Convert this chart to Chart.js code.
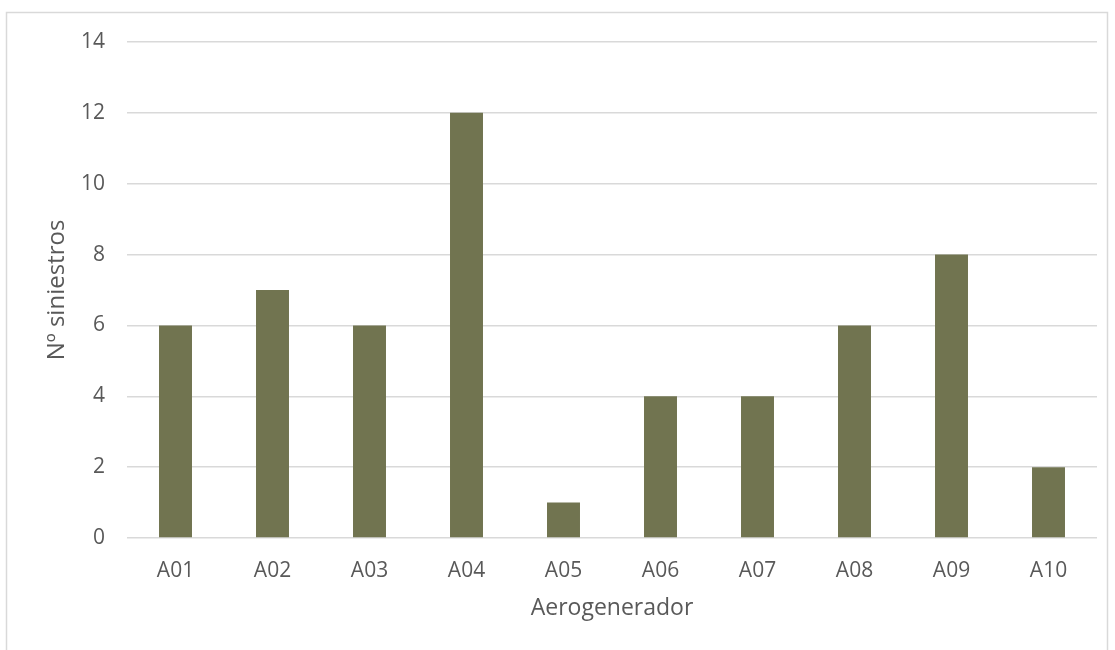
<!DOCTYPE html>
<html>
<head>
<meta charset="utf-8">
<script src="https://cdn.jsdelivr.net/npm/chart.js@4.4.0/dist/chart.umd.min.js"></script>
<style>
  html, body { margin: 0; padding: 0; background: #fff; }
  #wrap { position: relative; width: 1115px; height: 650px; }
</style>
</head>
<body>
<div id="wrap"><canvas id="chart" width="1115" height="650"></canvas></div>
<script>
  var categories = ["A01", "A02", "A03", "A04", "A05", "A06", "A07", "A08", "A09", "A10"];
  var siniestros = [6, 7, 6, 12, 1, 4, 4, 6, 8, 2];
  var yTicks = [0, 2, 4, 6, 8, 10, 12, 14];

  var TEXT = "#595959";
  var GRID = "#d9d9d9";
  var FONT = "'Open Sans', sans-serif";

  // outer frame like the spreadsheet chart border
  var framePlugin = {
    id: "frame",
    beforeDraw: function (chart) {
      var c = chart.ctx;
      c.save();
      c.fillStyle = "#fff";
      c.fillRect(0, 0, chart.width, chart.height);
      c.strokeStyle = GRID;
      c.lineWidth = 1.5;
      c.strokeRect(6.5, 12.5, 1101, 700);
      c.restore();
    }
  };

  new Chart(document.getElementById("chart"), {
    type: "bar",
    data: {
      labels: categories,
      datasets: [{
        label: "Nº siniestros",
        data: siniestros,
        backgroundColor: "#717450",
        borderWidth: 0,
        categoryPercentage: 1,
        barPercentage: 0.34
      }]
    },
    options: {
      responsive: false,
      animation: false,
      layout: { padding: { left: 0, right: 18, top: 42, bottom: 0 } },
      plugins: {
        legend: { display: false },
        tooltip: { enabled: false }
      },
      scales: {
        x: {
          grid: { display: false, drawTicks: false },
          border: { display: false },
          ticks: { color: TEXT, font: { family: FONT, size: 21 }, padding: 20 },
          title: {
            display: true,
            text: "Aerogenerador",
            color: TEXT,
            font: { family: FONT, size: 23 },
            padding: { top: 2, bottom: 28 }
          },
          afterFit: function (s) { s.height = 650 - 538; }
        },
        y: {
          min: 0,
          max: 14,
          afterBuildTicks: function (s) {
            s.ticks = yTicks.map(function (v) { return { value: v }; });
          },
          grid: { color: GRID, lineWidth: 1.5, drawTicks: false },
          border: { display: false },
          ticks: { color: TEXT, font: { family: FONT, size: 21 }, padding: 22 },
          title: {
            display: true,
            text: "Nº siniestros",
            color: TEXT,
            font: { family: FONT, size: 24 },
            padding: { top: 43, bottom: 0 }
          },
          afterFit: function (s) { s.width = 127; }
        }
      }
    },
    plugins: [framePlugin]
  });
</script>
</body>
</html>
